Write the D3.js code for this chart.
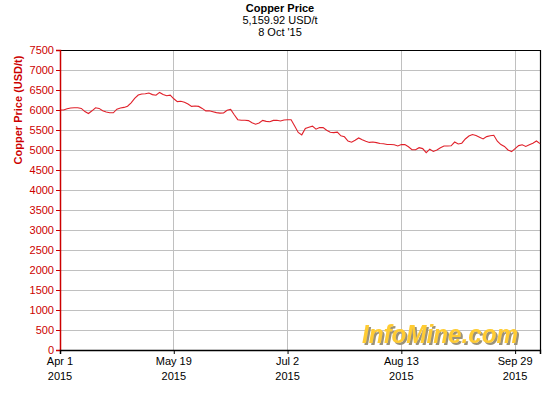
<!DOCTYPE html>
<html>
<head>
<meta charset="utf-8">
<script src="https://cdn.jsdelivr.net/npm/d3@7"></script>
<style>
  body { margin: 0; background: #fff; }
  svg { display: block; font-family: "Liberation Sans", Arial, sans-serif; }
</style>
</head>
<body>
<div id="chart"></div>
<script>
// Copper price, one value per trading day (Apr 1 -> Oct 8, 2015)
const prices = [
  6000, 6000, 6030, 6050, 6058, 6058, 6040, 5960, 5912, 5980,
  6055, 6040, 5980, 5950, 5930, 5930, 6020, 6048, 6065, 6095,
  6180, 6290, 6375, 6400, 6405, 6425, 6385, 6370, 6440, 6390,
  6355, 6370, 6280, 6210, 6220, 6195, 6150, 6090, 6100, 6090,
  6040, 5978, 5980, 5958, 5935, 5922, 5925, 5992, 6015, 5880,
  5758, 5745, 5742, 5735, 5683, 5645, 5675, 5740, 5715, 5707,
  5740, 5745, 5725, 5752, 5758, 5758, 5600, 5440, 5378, 5540,
  5570, 5595, 5520, 5560, 5560, 5495, 5442, 5435, 5445, 5355,
  5330, 5225, 5195, 5245, 5300, 5255, 5218, 5190, 5200, 5185,
  5163, 5155, 5137, 5138, 5132, 5102, 5135, 5135, 5080, 5008,
  5008, 5058, 5035, 4935, 5020, 4965, 4998, 5055, 5100, 5100,
  5105, 5200, 5152, 5170, 5275, 5350, 5388, 5362, 5320, 5278,
  5335, 5358, 5367, 5220, 5135, 5090, 5000, 4960, 5035, 5110,
  5130, 5090, 5130, 5170, 5225, 5160
];

// x tick positions (trading-day index) and their two-line labels
const tickIndex = [0, 32, 64, 96, 128];
const tickDates = ["Apr 1", "May 19", "Jul 2", "Aug 13", "Sep 29"];
const tickYears = ["2015", "2015", "2015", "2015", "2015"];

const yTicks = d3.range(0, 7501, 500);

const titleLines = ["Copper Price", "5,159.92 USD/t", "8 Oct '15"];

const W = 560, H = 400;
const margin = { top: 50, right: 20, bottom: 50, left: 60 };
const width = W - margin.left - margin.right,
  height = H - margin.top - margin.bottom;

const red = "#cc0000";

const svg = d3.select("#chart").append("svg")
  .attr("width", W)
  .attr("height", H);

// shadow for the watermark
svg.append("defs").append("filter")
  .attr("id", "wm-shadow")
  .attr("x", "-5%").attr("y", "-20%")
  .attr("width", "115%").attr("height", "150%")
  .append("feDropShadow")
    .attr("dx", 2).attr("dy", 2)
    .attr("stdDeviation", 0.4)
    .attr("flood-color", "#9a927a");

// Title block
svg.selectAll(".title")
  .data(titleLines)
  .enter().append("text")
    .attr("x", 280)
    .attr("y", (d, i) => 12 + i * 12)
    .attr("text-anchor", "middle")
    .attr("font-size", "11px")
    .attr("font-weight", (d, i) => i === 0 ? "bold" : "normal")
    .attr("fill", "#000")
    .text(d => d);

const g = svg.append("g")
  .attr("transform", `translate(${margin.left},${margin.top})`);

const x = d3.scaleLinear()
  .domain([0, prices.length - 1])
  .range([0, width]);

const y = d3.scaleLinear()
  .domain([0, 7500])
  .range([height, 0]);

// Grid
g.append("g")
  .selectAll("line")
  .data(yTicks.filter(d => d > 0 && d < 7500))
  .enter().append("line")
    .attr("x1", 0).attr("x2", width)
    .attr("y1", d => y(d)).attr("y2", d => y(d))
    .attr("stroke", "#c0c0c0").attr("stroke-width", 1)
    .attr("shape-rendering", "crispEdges");

g.append("g")
  .selectAll("line")
  .data(tickIndex.filter(d => d > 0))
  .enter().append("line")
    .attr("x1", d => x(d)).attr("x2", d => x(d))
    .attr("y1", 0).attr("y2", height)
    .attr("stroke", "#c0c0c0").attr("stroke-width", 1)
    .attr("shape-rendering", "crispEdges");

// Watermark
g.append("text")
  .attr("x", 458).attr("y", 293)
  .attr("text-anchor", "end")
  .attr("font-size", "25px")
  .attr("font-weight", "bold")
  .attr("font-style", "italic")
  .attr("textLength", 156)
  .attr("lengthAdjust", "spacingAndGlyphs")
  .attr("fill", "#ffcc33")
  .attr("filter", "url(#wm-shadow)")
  .text("InfoMine.com");

// Frame top / right
g.append("path")
  .attr("d", `M0,0.5H${width + 0.5}V${height}`)
  .attr("fill", "none")
  .attr("stroke", "#000")
  .attr("stroke-width", 1.2);

// Price line
const line = d3.line()
  .x((d, i) => x(i))
  .y(d => y(d));

g.append("path")
  .datum(prices)
  .attr("d", line)
  .attr("fill", "none")
  .attr("stroke", "#e0202a")
  .attr("stroke-width", 1.1);

// Y axis
const yAxis = g.append("g")
  .call(d3.axisLeft(y).tickValues(yTicks).tickSize(4).tickPadding(2).tickFormat(d3.format("d")));
yAxis.select(".domain").attr("stroke", red).attr("stroke-width", 1.5);
yAxis.selectAll(".tick line").attr("stroke", red);
yAxis.selectAll(".tick text")
  .attr("fill", red)
  .attr("font-size", "11px")
  .attr("font-family", "'Liberation Sans', Arial, sans-serif");

// X axis
const xAxis = g.append("g")
  .attr("transform", `translate(0,${height})`)
  .call(d3.axisBottom(x).tickValues(tickIndex).tickSize(4).tickFormat(""));
xAxis.select(".domain").attr("stroke", "#000").attr("stroke-width", 1.5);
xAxis.selectAll(".tick line").attr("stroke", "#000");

const xl = g.append("g").attr("transform", `translate(0,${height})`);
xl.selectAll(".d")
  .data(tickIndex)
  .enter().append("text")
    .attr("x", d => x(d))
    .attr("y", 15)
    .attr("text-anchor", "middle")
    .attr("font-size", "11px")
    .text((d, i) => tickDates[i]);
xl.selectAll(".yr")
  .data(tickIndex)
  .enter().append("text")
    .attr("x", d => x(d))
    .attr("y", 30)
    .attr("text-anchor", "middle")
    .attr("font-size", "11px")
    .text((d, i) => tickYears[i]);

// Y axis title
svg.append("text")
  .attr("transform", "translate(22,110) rotate(-90)")
  .attr("text-anchor", "middle")
  .attr("font-size", "11px")
  .attr("font-weight", "bold")
  .attr("fill", red)
  .text("Copper Price (USD/t)");
</script>
</body>
</html>
